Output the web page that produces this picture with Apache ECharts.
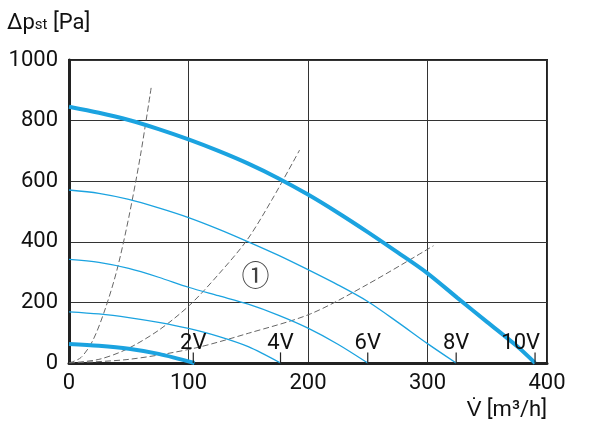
<!DOCTYPE html>
<html>
<head>
<meta charset="utf-8">
<script src="https://cdn.jsdelivr.net/npm/echarts@6/dist/echarts.min.js"></script>
<style>
  html, body { margin: 0; padding: 0; background: #fff; }
  #chart { width: 600px; height: 424px; }
</style>
</head>
<body>
<div id="chart"></div>
<script>
// fan curves, [m3/h, Pa]
var curve10V = [[0, 846], [25, 826], [50, 802], [75, 772], [100, 738], [125, 700], [150, 658], [175, 610], [200, 556], [225, 496], [250, 432], [275, 365], [300, 296], [325, 215], [350, 135], [375, 55], [390, 0]]
var curve8V = [[0, 571], [25, 560], [50, 540], [75, 512], [100, 480], [125, 442], [150, 400], [175, 356], [200, 308], [225, 258], [250, 203], [275, 135], [300, 64], [324, 0]]
var curve6V = [[0, 342], [25, 332], [50, 312], [75, 283], [100, 250], [125, 222], [150, 194], [175, 158], [200, 115], [225, 62], [250, 0]]
var curve4V = [[0, 169], [25, 162], [50, 150], [75, 134], [100, 114], [125, 88], [150, 54], [177, 0]]
var curve2V = [[0, 63], [25, 57], [50, 47], [75, 30], [105, 0]]

// system curves (dashed)
var sysSteep = [[0, 0], [10, 18], [20, 75], [30, 175], [40, 305], [50, 480], [60, 690], [69, 915]]
var sysMid = [[0, 0], [25, 12], [48, 45], [75, 108], [101, 191], [125, 292], [149, 406], [170, 540], [193, 703]]
var sysLow = [[0, 0], [50, 12], [104, 48], [150, 98], [202, 162], [250, 260], [305, 387]]

// voltage marks at zero pressure
var voltX = [104, 177, 250, 324, 390]
var voltLabels = ['2V', '4V', '6V', '8V', '10V']

var FONT = '"Liberation Sans Narrow", "Roboto", sans-serif'
var BLUE = '#1ba3e0'

var chart = echarts.init(document.getElementById('chart'))

function fanLine(data, width) {
  return {
    type: 'line',
    data: data,
    smooth: 0.3,
    showSymbol: false,
    lineStyle: { color: BLUE, width: width },
    z: 5
  }
}

function sysLine(data) {
  return {
    type: 'line',
    data: data,
    smooth: 0.3,
    showSymbol: false,
    lineStyle: { color: '#666', width: 1, type: [6, 3] },
    z: 4
  }
}

chart.setOption({
  animation: false,
  grid: {
    left: 69,
    right: 53,
    top: 60,
    bottom: 61,
    show: true,
    borderColor: '#222',
    borderWidth: 2
  },
  xAxis: {
    type: 'value',
    min: 0,
    max: 400,
    interval: 100,
    axisLine: { show: true, lineStyle: { color: '#222', width: 3 } },
    axisTick: { show: false },
    splitLine: { lineStyle: { color: '#333', width: 1 } },
    axisLabel: { color: '#111', fontSize: 22, fontFamily: FONT, margin: 9 },
    name: 'V\u0307 [m\u00b3/h]',
    nameLocation: 'end',
    nameGap: 0,
    nameTextStyle: {
      color: '#111',
      fontSize: 22,
      fontFamily: FONT,
      align: 'right',
      verticalAlign: 'top',
      padding: [36, 0, 0, 0]
    }
  },
  yAxis: {
    type: 'value',
    min: 0,
    max: 1000,
    interval: 200,
    axisLine: { show: true, lineStyle: { color: '#222', width: 3 } },
    axisTick: { show: false },
    splitLine: { lineStyle: { color: '#333', width: 1 } },
    axisLabel: {
      color: '#111', fontSize: 22, fontFamily: FONT, margin: 11,
      formatter: function (v) { return String(v) }
    },
    name: '{a|\u0394p}{b|st}{a| [Pa]}',
    nameLocation: 'end',
    nameGap: 0,
    nameTextStyle: {
      align: 'left',
      verticalAlign: 'bottom',
      padding: [0, 0, 26, -62],
      rich: {
        a: { color: '#111', fontSize: 22, fontFamily: FONT },
        b: { color: '#111', fontSize: 15, fontFamily: FONT, padding: [4, 0, 0, 0] }
      }
    }
  },
  series: [
    sysLine(sysSteep),
    sysLine(sysMid),
    sysLine(sysLow),
    fanLine(curve8V, 1.3),
    fanLine(curve6V, 1.3),
    fanLine(curve4V, 1.3),
    fanLine(curve2V, 4),
    fanLine(curve10V, 4),
    {
      type: 'custom',
      data: voltX.map(function (x, i) { return [x, i] }),
      z: 6,
      renderItem: function (params, api) {
        var x = api.value(0)
        var i = api.value(1)
        var p0 = api.coord([x, 0])
        var p1 = api.coord([x, 35])
        var last = i === voltX.length - 1
        return {
          type: 'group',
          children: [
            {
              type: 'line',
              shape: { x1: p0[0], y1: p0[1], x2: p1[0], y2: p1[1] },
              style: { stroke: '#222', lineWidth: 1.2 }
            },
            {
              type: 'text',
              style: {
                text: voltLabels[i],
                x: last ? p1[0] + 5 : p1[0],
                y: p1[1] + 2,
                align: last ? 'right' : 'center',
                verticalAlign: 'bottom',
                fill: '#111',
                font: '22px ' + FONT
              }
            }
          ]
        }
      }
    },
    {
      type: 'scatter',
      data: [[156, 290]],
      symbolSize: 0,
      z: 6,
      label: {
        show: true,
        position: 'inside',
        formatter: '\u2460',
        color: '#111',
        fontSize: 28,
        fontFamily: '"Noto Sans CJK JP", "DejaVu Sans", sans-serif'
      }
    }
  ]
})
</script>
</body>
</html>
